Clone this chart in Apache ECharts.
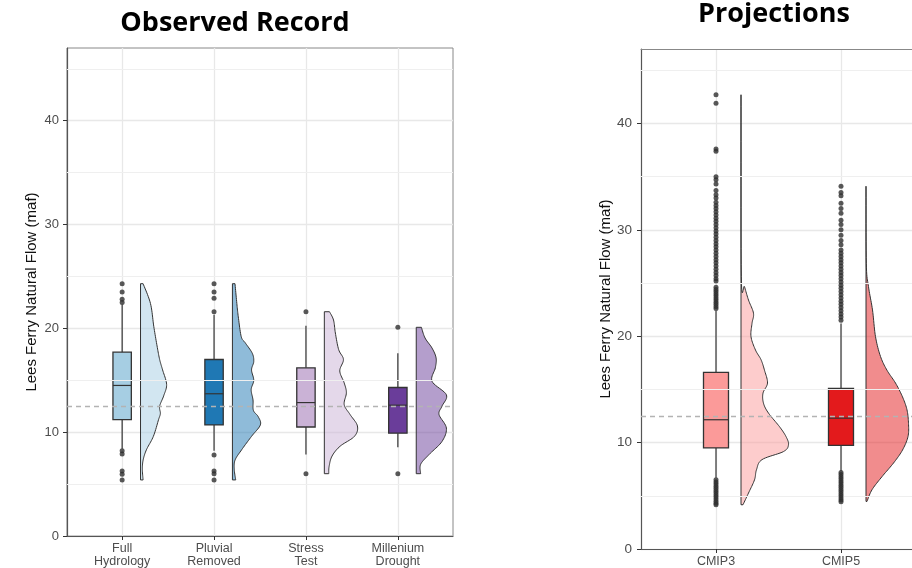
<!DOCTYPE html>
<html>
<head>
<meta charset="utf-8">
<script src="https://cdn.jsdelivr.net/npm/echarts@6/dist/echarts.min.js"></script>
<style>
html, body { margin: 0; padding: 0; background: #fff; }
#chart { width: 912px; height: 568px; }
</style>
</head>
<body>
<div id="chart"></div>
<script>
// ---- observed record ----
const obsCats = ['Full Hydrology', 'Pluvial Removed', 'Stress Test', 'Millenium Drought']
const obsColors = ['#a6cee3', '#1f78b4', '#cab2d6', '#6a3d9a']
// lower whisker, q1, median, q3, upper whisker
const obsBoxes = [
  [8.4, 11.2, 14.5, 17.7, 22.3],
  [8.2, 10.7, 13.7, 17.0, 21.3],
  [7.85, 10.5, 12.85, 16.2, 20.25],
  [8.55, 9.9, 12.6, 14.3, 17.6],
]
const obsOutliers = [
  [24.3, 23.5, 22.8, 22.5, 8.2, 7.9, 6.25, 5.95, 5.4],
  [24.3, 23.5, 22.9, 21.6, 7.8, 6.25, 6.0, 5.4],
  [21.6, 6.0],
  [20.1, 6.0],
]
// half violin profiles: [flow, relative density]
const obsDensity = [
  [[24.3, 0.07], [22.4, 0.27], [20.2, 0.36], [18.3, 0.45], [17.0, 0.52], [16.0, 0.6], [14.6, 0.71], [13.5, 0.63],
   [12.5, 0.52], [11.8, 0.54], [11.2, 0.49], [9.6, 0.35], [8.3, 0.16], [7.3, 0.07], [6.4, 0.05], [5.4, 0.07]],
  [[24.3, 0.07], [22.4, 0.12], [21.1, 0.16], [19.2, 0.24], [18.6, 0.35], [17.6, 0.54], [16.8, 0.58], [16.0, 0.52],
   [15.0, 0.58], [14.1, 0.51], [13.1, 0.56], [12.1, 0.57], [11.5, 0.7], [10.7, 0.76], [9.6, 0.52], [8.3, 0.25],
   [7.3, 0.07], [6.4, 0.05], [5.4, 0.09]],
  [[21.6, 0.14], [20.8, 0.25], [19.55, 0.3], [17.95, 0.39], [17.0, 0.52], [15.9, 0.42], [14.75, 0.54], [13.8, 0.6],
   [12.66, 0.54], [11.7, 0.7], [10.6, 0.9], [9.6, 0.82], [8.65, 0.43], [7.7, 0.21], [6.7, 0.13], [6.0, 0.12]],
  [[20.1, 0.14], [19.07, 0.24], [18.1, 0.43], [17.15, 0.54], [16.2, 0.52], [14.9, 0.43], [13.6, 0.82], [12.5, 0.7],
   [11.7, 0.62], [10.4, 0.82], [9.1, 0.7], [7.85, 0.35], [6.9, 0.12], [6.0, 0.12]],
]

// ---- projections ----
const projCats = ['CMIP3', 'CMIP5']
const projColors = ['#fb9a99', '#e31a1c']
const projBoxes = [
  [6.7, 9.5, 12.15, 16.6, 22.4],
  [7.3, 9.75, 12.3, 15.1, 21.2],
]
const projOutliers = [
  [42.7, 41.9, 37.6, 37.4, 35.0, 34.7, 34.3, 33.7, 33.3, 33.0, 32.6, 32.3, 32.0, 31.7, 31.4, 31.1, 30.8, 30.5,
   30.2, 29.9, 29.6, 29.3, 29.0, 28.7, 28.4, 28.1, 27.8, 27.5, 27.2, 26.9, 26.6, 26.3, 26.0, 25.7, 25.4, 25.2,
   24.6, 24.4, 24.2, 24.0, 23.8, 23.6, 23.4, 23.2, 23.0, 22.8, 22.6,
   6.5, 6.3, 6.1, 5.9, 5.7, 5.5, 5.3, 5.1, 4.9, 4.7, 4.5, 4.3, 4.15],
  [34.1, 33.5, 33.2, 32.5, 32.0, 31.55, 30.9, 30.5, 30.0, 29.5, 29.0, 28.6, 28.1, 27.8, 27.5, 27.2, 26.9, 26.6,
   26.3, 26.0, 25.7, 25.4, 25.1, 24.8, 24.5, 24.2, 23.9, 23.6, 23.3, 23.0, 22.7, 22.4, 22.1, 21.8, 21.5,
   7.2, 7.0, 6.8, 6.6, 6.4, 6.2, 6.0, 5.8, 5.6, 5.4, 5.2, 5.0, 4.8, 4.6, 4.45],
]
const projDensity = [
  [[42.7, 0], [25.6, 0.006], [24.66, 0.07], [23.4, 0.15], [22.16, 0.25], [21.2, 0.22], [19.96, 0.2], [18.7, 0.29],
   [17.8, 0.4], [16.8, 0.47], [15.6, 0.53], [14.65, 0.44], [13.7, 0.45], [12.77, 0.55], [11.5, 0.77], [10.57, 0.9],
   [9.8, 0.95], [9.16, 0.85], [8.4, 0.42], [7.45, 0.31], [6.5, 0.27], [5.26, 0.15], [4.16, 0.04]],
  [[34.1, 0], [26.85, 0.006], [24.66, 0.05], [22.47, 0.13], [19.96, 0.19], [18.1, 0.29], [16.8, 0.42], [15.6, 0.59],
   [14.3, 0.73], [13.08, 0.82], [11.8, 0.85], [10.57, 0.84], [9.3, 0.73], [8.08, 0.55], [6.8, 0.32], [5.57, 0.12],
   [4.47, 0.02]],
]

const refFlow = 12.5
const yTicks = [0, 10, 20, 30, 40]
const yMinor = [5, 15, 25, 35, 45]

const boxWidth = 0.2
const violinOffset = 0.2
const violinScale = 0.4

function withAlpha(hex, a) {
  const n = parseInt(hex.slice(1), 16)
  return 'rgba(' + (n >> 16) + ',' + ((n >> 8) & 255) + ',' + (n & 255) + ',' + a + ')'
}

// catmull-rom through the outline points
function smoothLine(pts) {
  const out = []
  for (let i = 0; i < pts.length - 1; i++) {
    const p0 = pts[i - 1] || pts[i], p1 = pts[i], p2 = pts[i + 1], p3 = pts[i + 2] || pts[i + 1]
    for (let s = 0; s < 10; s++) {
      const t = s / 10, t2 = t * t, t3 = t2 * t
      const f = (a, b, c, d) => 0.5 * (2 * b + (-a + c) * t + (2 * a - 5 * b + 4 * c - d) * t2 + (-a + 3 * b - 3 * c + d) * t3)
      out.push([f(p0[0], p1[0], p2[0], p3[0]), f(p0[1], p1[1], p2[1], p3[1])])
    }
  }
  out.push(pts[pts.length - 1])
  return out
}

function boxRender(colors) {
  return function (params, api) {
    const x = api.value(0)
    const half = api.size([boxWidth, 0])[0] / 2
    const lo = api.coord([x, api.value(1)])
    const q1 = api.coord([x, api.value(2)])
    const md = api.coord([x, api.value(3)])
    const q3 = api.coord([x, api.value(4)])
    const hi = api.coord([x, api.value(5)])
    const stroke = '#333'
    return {
      type: 'group',
      children: [
        { type: 'line', shape: { x1: lo[0], y1: lo[1], x2: q1[0], y2: q1[1] }, style: { stroke: stroke, lineWidth: 1.2 } },
        { type: 'line', shape: { x1: q3[0], y1: q3[1], x2: hi[0], y2: hi[1] }, style: { stroke: stroke, lineWidth: 1.2 } },
        { type: 'rect', shape: { x: q3[0] - half, y: q3[1], width: half * 2, height: q1[1] - q3[1] },
          style: { fill: colors[params.dataIndex], stroke: stroke, lineWidth: 1.3 } },
        { type: 'line', shape: { x1: md[0] - half, y1: md[1], x2: md[0] + half, y2: md[1] }, style: { stroke: stroke, lineWidth: 1.2 } },
      ],
    }
  }
}

function violinRender(profiles, colors) {
  return function (params, api) {
    const x = api.value(0)
    const prof = profiles[params.dataIndex]
    const base = x + violinOffset
    const baseTop = api.coord([base, prof[0][0]])
    const baseBot = api.coord([base, prof[prof.length - 1][0]])
    const edge = smoothLine(prof.map(p => api.coord([base + p[1] * violinScale, p[0]])))
      .map(p => [Math.max(p[0], baseTop[0]), p[1]])
    return {
      type: 'polygon',
      shape: { points: [baseTop].concat(edge, [baseBot]) },
      style: { fill: withAlpha(colors[params.dataIndex], 0.5), stroke: '#333', lineWidth: 1 },
    }
  }
}

function outlierPoints(list) {
  const pts = []
  list.forEach((arr, i) => arr.forEach(v => pts.push([i + 1, v])))
  return pts
}

const labelFont = 'Liberation Sans'
const majorGrid = { color: '#e8e8e8', width: 1.3 }

function xAxisFor(gridIndex, cats, max, fontSize) {
  const pos = cats.map((c, i) => i + 1)
  return {
    gridIndex: gridIndex, type: 'value', min: 0.4, max: max,
    axisLine: { onZero: false, lineStyle: { color: '#555', width: 1.2 } },
    axisTick: { customValues: pos, length: 4, lineStyle: { color: '#333' } },
    axisLabel: {
      customValues: pos, color: '#4d4d4d', fontSize: fontSize, lineHeight: 13, margin: 6, fontFamily: labelFont,
      formatter: v => cats[Math.round(v) - 1].replace(' ', '\n'),
    },
    splitLine: { show: true, lineStyle: majorGrid },
  }
}

function yAxisFor(gridIndex, fontSize, margin) {
  return {
    gridIndex: gridIndex, type: 'value', min: 0, max: 47,
    name: 'Lees Ferry Natural Flow (maf)', nameLocation: 'middle', nameGap: 28,
    nameTextStyle: { color: '#111', fontSize: 15, fontFamily: labelFont },
    axisLine: { show: true, lineStyle: { color: '#555', width: 1.2 } },
    axisTick: { show: true, customValues: yTicks, length: 4, lineStyle: { color: '#333' } },
    axisLabel: { customValues: yTicks, color: '#4d4d4d', fontSize: fontSize, margin: margin, fontFamily: labelFont },
    splitLine: { show: true, lineStyle: majorGrid },
  }
}

function refLines(xi, yi) {
  return {
    type: 'line', xAxisIndex: xi, yAxisIndex: yi, data: [], z: 1, silent: true,
    markLine: {
      silent: true, symbol: 'none', label: { show: false },
      data: yMinor.map(v => ({ yAxis: v, lineStyle: { color: '#efefef', width: 1, type: 'solid' } }))
        .concat([{ yAxis: refFlow, lineStyle: { color: '#b3b3b3', width: 1.4, type: [5, 4] } }]),
    },
  }
}

// projections panel continues past the right edge of the picture
const projMax = 0.4 + 271 / 125

const chart = echarts.init(document.getElementById('chart'))
chart.setOption({
  animation: false,
  title: [
    { text: 'Observed Record', left: 230, top: 5, textAlign: 'center',
      textStyle: { fontFamily: 'Open Sans', fontWeight: 'bold', fontSize: 27, color: '#000' } },
    { text: 'Projections', left: 769, top: -4, textAlign: 'center',
      textStyle: { fontFamily: 'Open Sans', fontWeight: 'bold', fontSize: 27, color: '#000' } },
  ],
  grid: [
    { left: 67, top: 48, width: 386, height: 489, show: true, borderColor: '#888', borderWidth: 1, backgroundColor: '#fff' },
    { left: 641, top: 49, right: 0, height: 500, show: false },
  ],
  xAxis: [
    xAxisFor(0, obsCats, 4.6, 12.5),
    xAxisFor(1, projCats, projMax, 12.5),
    {
      gridIndex: 1, type: 'value', position: 'top', min: 0.4, max: projMax,
      axisLine: { show: true, onZero: false, lineStyle: { color: '#888', width: 1 } },
      axisTick: { show: false }, axisLabel: { show: false }, splitLine: { show: false },
    },
  ],
  yAxis: [yAxisFor(0, 13, 8), yAxisFor(1, 13.5, 9)],
  series: [
    refLines(0, 0),
    refLines(1, 1),
    {
      type: 'custom', xAxisIndex: 0, yAxisIndex: 0, z: 3,
      renderItem: boxRender(obsColors),
      encode: { x: 0, y: [1, 2, 3, 4, 5] },
      data: obsBoxes.map((b, i) => [i + 1].concat(b)),
    },
    {
      type: 'custom', xAxisIndex: 1, yAxisIndex: 1, z: 3,
      renderItem: boxRender(projColors),
      encode: { x: 0, y: [1, 2, 3, 4, 5] },
      data: projBoxes.map((b, i) => [i + 1].concat(b)),
    },
    {
      type: 'custom', xAxisIndex: 0, yAxisIndex: 0, z: 4,
      renderItem: violinRender(obsDensity, obsColors),
      encode: { x: 0, y: 1 },
      data: obsDensity.map((p, i) => [i + 1, p[0][0]]),
    },
    {
      type: 'custom', xAxisIndex: 1, yAxisIndex: 1, z: 4, clip: true,
      renderItem: violinRender(projDensity, projColors),
      encode: { x: 0, y: 1 },
      data: projDensity.map((p, i) => [i + 1, p[0][0]]),
    },
    {
      type: 'scatter', xAxisIndex: 0, yAxisIndex: 0, z: 5, symbolSize: 5,
      itemStyle: { color: '#2e2e2e' },
      data: outlierPoints(obsOutliers),
    },
    {
      type: 'scatter', xAxisIndex: 1, yAxisIndex: 1, z: 5, symbolSize: 5,
      itemStyle: { color: '#2e2e2e' },
      data: outlierPoints(projOutliers),
    },
  ],
})
</script>
</body>
</html>
